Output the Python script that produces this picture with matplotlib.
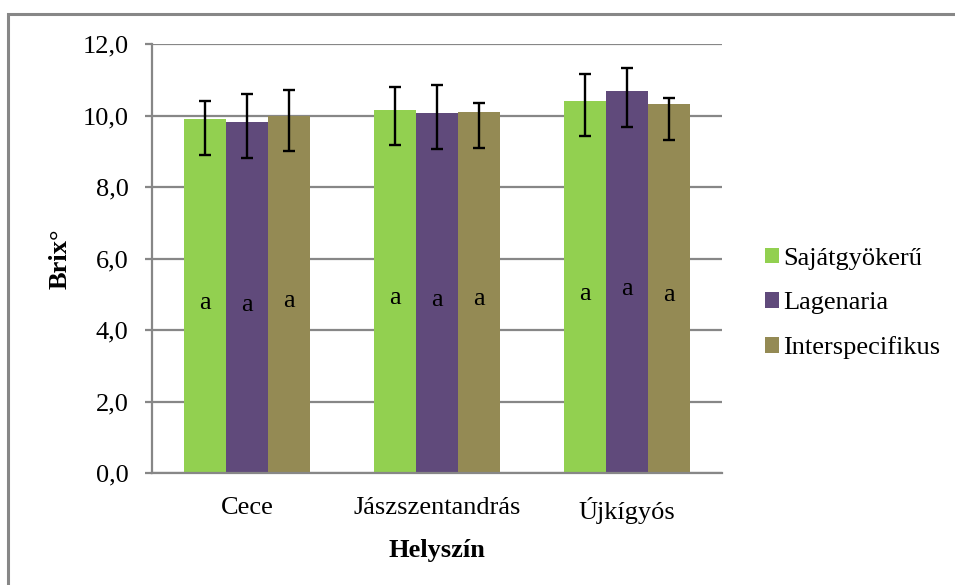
import numpy as np
import matplotlib.pyplot as plt
from matplotlib.patches import Rectangle

plt.rcParams['font.family'] = ['Liberation Serif', 'DejaVu Serif']

locations = ["Cece", "Jászszentandrás", "Újkígyós"]
series = ["Sajátgyökerű", "Lagenaria", "Interspecifikus"]
colors = ["#92D050", "#604A7B", "#948A54"]

# mean Brix values per series (rows) and location (columns)
brix = [
    [9.9, 10.17, 10.42],
    [9.82, 10.07, 10.69],
    [10.0, 10.11, 10.33],
]
err_upper = [
    [0.52, 0.63, 0.74],
    [0.78, 0.78, 0.66],
    [0.73, 0.25, 0.18],
]
err_lower = [
    [1.0, 1.0, 1.0],
    [1.0, 1.0, 1.0],
    [1.0, 1.0, 1.0],
]
letters = [
    ["a", "a", "a"],
    ["a", "a", "a"],
    ["a", "a", "a"],
]

FS = 19

fig = plt.figure(figsize=(9.55, 5.85), dpi=100)
ax = fig.add_axes([152 / 955, 1 - 473 / 585, 570 / 955, (473 - 44.3) / 585])

# outer chart border (runs off the right and bottom edges)
fig.patches.append(Rectangle((8 / 955, -0.05), 1.0, 1.05 - 14 / 585, transform=fig.transFigure,
                             fill=False, edgecolor="#878787", linewidth=2.2, zorder=0))

x = np.arange(len(locations))
width = 1 / 4.5
for i, name in enumerate(series):
    pos = x + (i - 1) * width
    ax.bar(pos, brix[i], width, color=colors[i], label=name, zorder=2)
    ax.errorbar(pos, brix[i], yerr=[err_lower[i], err_upper[i]], fmt="none",
                ecolor="black", elinewidth=1.7, capsize=4.3, capthick=1.7, zorder=3)
    for j in range(len(locations)):
        ax.annotate(letters[i][j], (pos[j], brix[i][j] / 2), xytext=(0, -5),
                    textcoords="offset points", ha="center", va="center",
                    fontsize=FS, zorder=4)

ax.set_xlim(-0.5, 2.5)
ax.set_ylim(0, 12)
ax.set_yticks(np.arange(0, 12.1, 2))
ax.set_yticklabels([f"{v:.1f}".replace(".", ",") for v in np.arange(0, 12.1, 2)])
ax.set_xticks(x)
ax.set_xticklabels(locations)
ax.yaxis.grid(True, color="#878787", linewidth=1.6, zorder=0)
ax.set_axisbelow(True)

for side in ["top", "right"]:
    ax.spines[side].set_visible(False)
for side in ["left", "bottom"]:
    ax.spines[side].set_color("#878787")
    ax.spines[side].set_linewidth(1.6)

ax.tick_params(axis="y", length=5, width=1.6, color="#878787", pad=12, labelsize=FS)
ax.tick_params(axis="x", length=0, pad=17, labelsize=FS)

ax.set_xlabel("Helyszín", fontsize=FS, fontweight="bold", labelpad=11)
ax.set_ylabel("Brix°", fontsize=FS, fontweight="bold", labelpad=8)

ax.legend(loc="center left", bbox_to_anchor=(1.075, 0.396), frameon=False, fontsize=FS,
          handlelength=0.55, handleheight=0.55, handletextpad=0.15, labelspacing=0.83,
          borderpad=0, borderaxespad=0)

fig.savefig("out.png", dpi=100)
